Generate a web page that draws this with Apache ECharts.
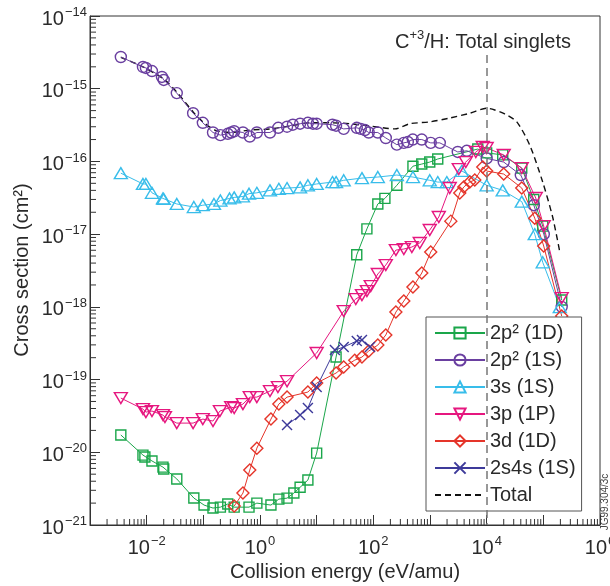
<!DOCTYPE html>
<html>
<head>
<meta charset="utf-8">
<script src="https://cdn.jsdelivr.net/npm/echarts@6/dist/echarts.min.js"></script>
<style>
html, body { margin: 0; padding: 0; background: #fff; }
#chart { width: 610px; height: 586px; }
</style>
</head>
<body>
<div id="chart"></div>
<script>
// values (energy in eV/amu, cross section in cm^2)
const energy2p2D = [0.0035, 0.0086, 0.0093, 0.0124, 0.0194, 0.020, 0.034, 0.068, 0.103, 0.148, 0.20, 0.27, 0.35, 0.64, 0.88, 1.56, 2.15, 3.0, 3.96, 5.1, 7.0, 10, 22, 51, 77, 120, 160, 260, 500, 716, 990, 1370, 6970, 10000, 19200, 41600, 67700, 97600, 211000];
const sigma2p2D = [1.73e-20, 9.15e-21, 8.6e-21, 7.6e-21, 6.25e-21, 5.9e-21, 4.3e-21, 2.35e-21, 1.88e-21, 1.71e-21, 1.76e-21, 1.94e-21, 1.76e-21, 1.76e-21, 2.0e-21, 1.88e-21, 2.27e-21, 2.34e-21, 2.75e-21, 3.3e-21, 4.15e-21, 9.75e-21, 2.04e-19, 5.2e-18, 1.18e-17, 2.6e-17, 3.1e-17, 4.7e-17, 8.6e-17, 9.2e-17, 9.8e-17, 1.08e-16, 1.48e-16, 1.31e-16, 1.23e-16, 8.1e-17, 3.0e-17, 1.29e-17, 1.24e-18];

const energy2p2S = [0.0035, 0.0086, 0.0097, 0.0124, 0.0186, 0.020, 0.034, 0.066, 0.098, 0.148, 0.20, 0.27, 0.31, 0.35, 0.50, 0.66, 0.88, 1.5, 2.1, 3.0, 3.8, 5.1, 7.0, 8.6, 10, 19, 22, 30, 51, 60, 71, 83, 120, 166, 260, 345, 406, 497, 716, 1030, 1490, 3090, 4460, 10000, 20000, 40000, 68000, 102000, 211000];
const sigma2p2S = [2.73e-15, 1.99e-15, 1.93e-15, 1.75e-15, 1.45e-15, 1.32e-15, 8.7e-16, 4.6e-16, 3.4e-16, 2.5e-16, 2.3e-16, 2.4e-16, 2.5e-16, 2.6e-16, 2.5e-16, 2.2e-16, 2.5e-16, 2.5e-16, 2.9e-16, 3.0e-16, 3.2e-16, 3.3e-16, 3.4e-16, 3.3e-16, 3.3e-16, 3.2e-16, 3.1e-16, 2.8e-16, 2.9e-16, 2.8e-16, 2.7e-16, 2.5e-16, 2.5e-16, 2.1e-16, 1.7e-16, 1.8e-16, 1.85e-16, 2.0e-16, 2.0e-16, 1.8e-16, 1.8e-16, 1.35e-16, 1.4e-16, 1.1e-16, 9.8e-17, 6.5e-17, 2.5e-17, 1.0e-17, 1.0e-18];

const energy3s = [0.0035, 0.0086, 0.0097, 0.0124, 0.0194, 0.020, 0.034, 0.068, 0.098, 0.154, 0.20, 0.29, 0.35, 0.50, 0.64, 0.88, 1.5, 2.15, 3.0, 5.1, 7.0, 10, 19, 22, 30, 63, 120, 260, 500, 990, 1370, 1980, 3640, 10000, 19200, 41600, 70500, 97600, 195000];
const sigma3s = [6.9e-17, 4.9e-17, 4.9e-17, 3.7e-17, 3.1e-17, 3.05e-17, 2.6e-17, 2.36e-17, 2.5e-17, 2.6e-17, 2.9e-17, 3.1e-17, 3.2e-17, 3.3e-17, 3.6e-17, 3.7e-17, 4.0e-17, 4.2e-17, 4.3e-17, 4.4e-17, 4.7e-17, 4.9e-17, 5.2e-17, 5.2e-17, 5.5e-17, 5.9e-17, 6.1e-17, 6.5e-17, 6.1e-17, 5.5e-17, 5.2e-17, 5.2e-17, 7.4e-17, 4.7e-17, 4.0e-17, 2.8e-17, 1.0e-17, 4.1e-18, 9.9e-19];

const energy3p = [0.0035, 0.0086, 0.0097, 0.0124, 0.0194, 0.021, 0.034, 0.066, 0.098, 0.148, 0.196, 0.31, 0.35, 0.50, 0.66, 0.88, 1.5, 2.07, 3.0, 10, 30, 49, 63, 77, 90, 120, 166, 250, 345, 478, 660, 990, 1430, 2230, 3220, 4280, 6430, 8530, 10000, 20000, 41600, 73500, 101600, 211000];
const sigma3p = [5.57e-20, 3.93e-20, 3.57e-20, 3.69e-20, 3.25e-20, 3.05e-20, 2.52e-20, 2.52e-20, 2.86e-20, 2.69e-20, 3.69e-20, 4.19e-20, 4.06e-20, 4.6e-20, 5.74e-20, 5.74e-20, 6.95e-20, 7.89e-20, 9.5e-20, 2.32e-19, 8.75e-19, 1.28e-18, 1.45e-18, 1.65e-18, 1.93e-18, 2.83e-18, 3.76e-18, 6.04e-18, 6.24e-18, 6.65e-18, 7.55e-18, 1.14e-17, 1.72e-17, 4.31e-17, 7.86e-17, 9.8e-17, 1.35e-16, 1.58e-16, 1.53e-16, 1.23e-16, 8.1e-17, 3.14e-17, 1.29e-17, 1.32e-18];

const energy3d = [0.35, 0.50, 0.66, 0.88, 1.56, 2.15, 3.0, 7.0, 10, 22, 30, 47, 63, 83, 120, 166, 250, 345, 500, 716, 1030, 2330, 3350, 3950, 5030, 6170, 8530, 10000, 20000, 41600, 70500, 101600, 211000];
const sigma3d = [1.82e-21, 2.75e-21, 5.69e-21, 1.14e-20, 2.86e-20, 4.6e-20, 5.74e-20, 6.73e-20, 8.95e-20, 1.23e-19, 1.49e-19, 1.85e-19, 2.04e-19, 2.47e-19, 2.98e-19, 4.1e-19, 8.48e-19, 1.2e-18, 1.87e-18, 2.92e-18, 5.67e-18, 1.51e-17, 3.68e-17, 4.45e-17, 5.21e-17, 5.55e-17, 8.4e-17, 7.38e-17, 6.71e-17, 4.31e-17, 1.66e-17, 6.86e-18, 7.47e-19];

const energy2s4s = [3.0, 5.1, 7.0, 10, 21, 30, 51, 63, 87];
const sigma2s4s = [2.37e-20, 3.25e-20, 4.06e-20, 7.89e-20, 2.55e-19, 2.8e-19, 3.39e-19, 3.49e-19, 2.8e-19];

const energyTotal = [0.0035, 0.0086, 0.020, 0.034, 0.066, 0.098, 0.16, 0.29, 0.66, 1.5, 3.4, 7.6, 17, 38.5, 87, 240, 440, 990, 2230, 5040, 10000, 13900, 20800, 34000, 57500, 97500, 146000, 195000];
const sigmaTotal = [2.7e-15, 2.0e-15, 1.36e-15, 9.0e-16, 4.8e-16, 3.5e-16, 2.7e-16, 2.5e-16, 2.7e-16, 2.8e-16, 3.07e-16, 3.4e-16, 3.4e-16, 3.3e-16, 3.07e-16, 2.8e-16, 3.3e-16, 3.5e-16, 3.95e-16, 4.6e-16, 5.4e-16, 5.1e-16, 4.5e-16, 3.5e-16, 1.68e-16, 5.2e-17, 1.72e-17, 5.7e-18];

const xMin = 1e-3, xMax = 1e6, yMin = 1e-21, yMax = 1e-14;
// a hair below 1e-21 so the bottom decade tick survives float rounding in log()
const yAxisMin = 0.99999e-21;
const font = 'Liberation Sans, Arial, sans-serif';
const ink = '#2a2a2a';

const zip = (xs, ys) => xs.map((x, i) => [x, ys[i]]);

function supText(e) {
    return String(e).replace('-', '\u2212');
}
const labelRich = {
    b: { fontSize: 20, fontFamily: font, color: ink, lineHeight: 26, verticalAlign: 'bottom' },
    s: { fontSize: 13, fontFamily: font, color: ink, lineHeight: 26, verticalAlign: 'bottom', padding: [0, 0, 10, 1] }
};

// log-style minor ticks (2..9 per decade)
const xMinor = [];
for (let k = -3; k < 6; k++) for (let m = 2; m < 10; m++) xMinor.push([m * Math.pow(10, k), yMin]);
const yMinor = [];
for (let k = -21; k < -14; k++) for (let m = 2; m < 10; m++) yMinor.push([xMin, m * Math.pow(10, k)]);

function lineSeries(name, xs, ys, color, symbol, size, extra) {
    return Object.assign({
        name: name,
        type: 'line',
        data: zip(xs, ys),
        symbol: symbol,
        symbolSize: size,
        showAllSymbol: true,
        lineStyle: { color: color, width: 1 },
        itemStyle: { color: 'rgba(255,255,255,0)', borderColor: color, borderWidth: 1.4 },
        emphasis: { disabled: true },
        z: 3
    }, extra || {});
}

const chart = echarts.init(document.getElementById('chart'));
chart.setOption({
    animation: false,
    backgroundColor: '#fff',
    textStyle: { fontFamily: font, color: ink },
    title: {
        text: '{a|C}{s|+3}{a|/H: Total singlets}',
        left: 390, top: 21,
        textStyle: {
            rich: {
                a: { fontSize: 20, fontWeight: 'normal', fontFamily: font, color: ink, lineHeight: 26, verticalAlign: 'bottom' },
                s: { fontSize: 13, fontWeight: 'normal', fontFamily: font, color: ink, lineHeight: 26, verticalAlign: 'bottom', padding: [0, 0, 10, 0] }
            }
        }
    },
    grid: { left: 90, right: 10, top: 16, bottom: 61, show: true, borderColor: '#333', borderWidth: 1, outerBoundsMode: 'none' },
    legend: {
        orient: 'vertical', left: 426, top: 317,
        data: ['2p\u00b2 (1D)', '2p\u00b2 (1S)', '3s (1S)', '3p (1P)', '3d (1D)', '2s4s (1S)',
            { name: 'Total', itemStyle: { opacity: 0 } }],
        itemWidth: 50, itemHeight: 14, itemGap: 7,
        padding: [6, 6, 6, 8],
        borderColor: '#555', borderWidth: 1, backgroundColor: '#fff',
        textStyle: { fontSize: 20, fontFamily: font, color: ink },
        selectedMode: false
    },
    xAxis: {
        type: 'log', logBase: 10, min: xMin, max: xMax,
        name: 'Collision energy (eV/amu)', nameLocation: 'middle', nameGap: 36,
        nameTextStyle: { fontSize: 20, fontFamily: font, color: ink },
        axisLine: { show: true, lineStyle: { color: '#333', width: 1 } },
        axisTick: { show: true, inside: true, length: 10, interval: 0, lineStyle: { color: '#333' } },
        splitLine: { show: false },
        axisLabel: {
            interval: 0, margin: 7, showMinLabel: false, showMaxLabel: true, hideOverlap: false,
            formatter: v => {
                const e = Math.round(Math.log10(v));
                return e % 2 === 0 ? '{b|10}{s|' + supText(e) + '}' : '';
            },
            rich: labelRich
        }
    },
    yAxis: {
        type: 'log', logBase: 10, min: yAxisMin, max: yMax,
        axisLine: { show: true, lineStyle: { color: '#333', width: 1 } },
        axisTick: { show: true, inside: true, length: 10, interval: 0, lineStyle: { color: '#333' } },
        splitLine: { show: false },
        axisLabel: {
            interval: 0, margin: 3, showMinLabel: true, showMaxLabel: true, hideOverlap: false,
            formatter: v => '{b|10}{s|' + supText(Math.round(Math.log10(v))) + '}',
            rich: labelRich
        }
    },
    graphic: [{
        type: 'text', x: 22, y: 270, rotation: Math.PI / 2,
        style: { text: 'Cross section (cm\u00b2)', font: '20px ' + font, fill: ink, align: 'center', verticalAlign: 'middle' }
    }, {
        type: 'text', x: 605, y: 502, rotation: Math.PI / 2,
        style: { text: 'JG99.304/3c', font: '10px ' + font, fill: '#444', align: 'center', verticalAlign: 'middle' }
    }],
    series: [
        {
            name: 'Total', type: 'line', data: zip(energyTotal, sigmaTotal),
            symbol: 'none', smooth: 0.25,
            lineStyle: { color: '#111', width: 1.4, type: [6, 4] },
            itemStyle: { color: '#111' },
            emphasis: { disabled: true }, z: 2,
            markLine: {
                silent: true, symbol: 'none', label: { show: false },
                lineStyle: { color: '#777', width: 1.5, type: [8, 5] },
                data: [[{ coord: [1e4, 2.9e-15] }, { coord: [1e4, yMin] }]]
            }
        },
        lineSeries('2p\u00b2 (1D)', energy2p2D, sigma2p2D, '#1aa64a', 'rect', 10),
        lineSeries('2p\u00b2 (1S)', energy2p2S, sigma2p2S, '#6a3fa0', 'circle', 11),
        lineSeries('3s (1S)', energy3s, sigma3s, '#38bdea', 'triangle', [13, 11]),
        lineSeries('3p (1P)', energy3p, sigma3p, '#e6177f', 'triangle', [13, 11], { symbolRotate: 180 }),
        lineSeries('3d (1D)', energy3d, sigma3d, '#e5352a', 'diamond', 12),
        lineSeries('2s4s (1S)', energy2s4s, sigma2s4s, '#3d3a9a', 'path://M0,0L10,10M10,0L0,10', 10),
        {
            type: 'custom', silent: true, clip: false, z: 1,
            data: xMinor,
            renderItem: (params, api) => {
                const p = api.coord([api.value(0), api.value(1)]);
                return { type: 'line', shape: { x1: p[0], y1: p[1], x2: p[0], y2: p[1] - 6 }, style: { stroke: '#333', lineWidth: 1 } };
            }
        },
        {
            type: 'custom', silent: true, clip: false, z: 1,
            data: yMinor,
            renderItem: (params, api) => {
                const p = api.coord([api.value(0), api.value(1)]);
                return { type: 'line', shape: { x1: p[0], y1: p[1], x2: p[0] + 6, y2: p[1] }, style: { stroke: '#333', lineWidth: 1 } };
            }
        }
    ]
});
</script>
</body>
</html>
